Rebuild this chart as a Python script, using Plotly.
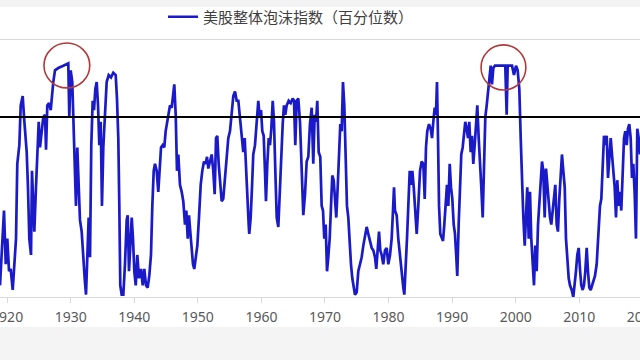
import plotly.graph_objects as go

# ---- data (decimal year, percentile) ----
years = [
    1918.88, 1919.15, 1919.51, 1919.78, 1920.03, 1920.30, 1920.56, 1920.88, 1921.08, 1921.40,
    1921.60, 1921.92, 1922.14, 1922.45, 1922.66, 1922.86, 1923.08, 1923.28, 1923.49, 1923.76,
    1923.91, 1924.12, 1924.28, 1924.54, 1924.75, 1924.97, 1925.17, 1925.44, 1925.69, 1925.96,
    1926.12, 1926.32, 1926.59, 1926.86, 1927.06, 1927.26, 1927.53, 1928.05, 1928.84, 1929.62,
    1929.78, 1930.00, 1930.25, 1930.52, 1930.83, 1931.04, 1931.26, 1931.46, 1931.73, 1931.98,
    1932.20, 1932.41, 1932.61, 1932.83, 1933.04, 1933.24, 1933.46, 1933.67, 1933.87, 1934.09,
    1934.30, 1934.50, 1934.72, 1934.92, 1935.13, 1935.40, 1935.66, 1935.98,
    1936.34, 1936.70, 1937.08, 1937.28, 1937.49, 1937.65, 1937.80, 1938.02, 1938.28, 1938.54,
    1938.81, 1938.97, 1939.17, 1939.38, 1939.60, 1939.80, 1940.01, 1940.23, 1940.48, 1940.74,
    1941.06, 1941.33, 1941.58, 1941.85, 1942.11, 1942.36, 1942.63, 1942.84, 1943.06, 1943.26,
    1943.53, 1943.78, 1943.94, 1944.21, 1944.47, 1944.72, 1944.94, 1945.15, 1945.35, 1945.62,
    1945.89, 1946.14, 1946.30, 1946.52, 1946.72, 1946.93, 1947.19, 1947.46, 1947.71, 1947.98,
    1948.19, 1948.41, 1948.61, 1948.81, 1949.03, 1949.24, 1949.44, 1949.66, 1949.92, 1950.18,
    1950.45, 1950.70, 1950.97, 1951.24, 1951.44, 1951.65, 1951.91, 1952.18, 1952.43,
    1952.65, 1952.86, 1953.06, 1953.28, 1953.49, 1953.75, 1954.00, 1954.27, 1954.54, 1954.79,
    1955.06, 1955.33, 1955.58, 1955.85, 1956.11, 1956.37, 1956.63, 1956.90, 1957.15, 1957.37,
    1957.58, 1957.78, 1958.00, 1958.09, 1958.31, 1958.52, 1958.72, 1958.99, 1959.26, 1959.51,
    1959.73, 1959.94, 1960.14, 1960.36, 1960.56, 1960.72, 1960.93, 1961.15, 1961.35, 1961.56,
    1961.78, 1961.98, 1962.19, 1962.41, 1962.66, 1962.92, 1963.13, 1963.35, 1963.55, 1963.76,
    1963.98, 1964.29, 1964.61, 1964.92, 1965.13, 1965.33, 1965.55, 1965.80, 1966.07, 1966.34,
    1966.59, 1966.86, 1967.12, 1967.38, 1967.64, 1967.91, 1968.16, 1968.38, 1968.59, 1968.79,
    1969.01, 1969.26, 1969.48, 1969.69, 1969.89, 1970.11, 1970.32, 1970.52, 1970.74, 1970.95,
    1971.15, 1971.37, 1971.58, 1971.78, 1972.00, 1972.20, 1972.41, 1972.63, 1972.83, 1973.04,
    1973.26, 1973.46, 1973.67, 1973.89, 1974.09, 1974.30, 1974.52, 1974.72, 1974.99, 1975.24,
    1975.51, 1975.77, 1976.03, 1976.29, 1976.56, 1976.81, 1977.08, 1977.35, 1977.60, 1977.87,
    1978.07, 1978.29, 1978.50, 1978.70, 1978.92, 1979.17, 1979.44, 1979.71, 1979.96, 1980.23,
    1980.49, 1980.70, 1980.86, 1981.01, 1981.28, 1981.53, 1981.80, 1982.07, 1982.32, 1982.48,
    1982.70, 1982.90, 1983.11, 1983.33, 1983.53, 1983.74, 1983.96, 1984.16, 1984.43, 1984.68,
    1984.95, 1985.21, 1985.47, 1985.69,
    1985.89, 1986.09, 1986.36, 1986.63, 1986.84, 1987.04, 1987.26, 1987.46, 1987.62, 1987.78,
    1987.94, 1988.14, 1988.36, 1988.57, 1988.77, 1988.99, 1989.19, 1989.40, 1989.62, 1989.82,
    1990.03, 1990.25, 1990.45, 1990.66, 1990.81, 1991.03, 1991.24, 1991.44, 1991.66, 1991.87,
    1992.07, 1992.29, 1992.50, 1992.70, 1992.92, 1993.13, 1993.33, 1993.55, 1993.75, 1993.96,
    1994.18, 1994.38, 1994.59, 1994.81, 1995.01, 1995.22, 1995.44, 1995.64, 1995.85, 1996.07,
    1996.27, 1996.48, 1996.74, 1997.11, 1997.42, 1997.73, 1998.05, 1998.36, 1998.58, 1998.74,
    1999.10, 1999.42, 1999.73, 2000.05, 2000.31, 2000.57, 2000.79, 2000.99, 2001.19, 2001.42,
    2001.62, 2001.82, 2002.05,
    2002.25, 2002.45, 2002.67, 2002.88, 2003.08, 2003.30, 2003.51, 2003.72, 2003.93, 2004.14,
    2004.34, 2004.56, 2004.77, 2004.97, 2005.19, 2005.40, 2005.60, 2005.82, 2006.02, 2006.23,
    2006.45, 2006.65, 2006.86, 2007.08, 2007.28, 2007.49, 2007.71, 2007.91, 2008.12, 2008.34,
    2008.54, 2008.81, 2009.06, 2009.28, 2009.48, 2009.69, 2009.91, 2010.11, 2010.32, 2010.54,
    2010.74, 2010.95, 2011.17, 2011.37, 2011.58, 2011.80, 2012.00, 2012.21, 2012.47, 2012.74,
    2012.99, 2013.26, 2013.47, 2013.69, 2013.89, 2014.10, 2014.32, 2014.52, 2014.73, 2014.95,
    2015.15, 2015.36, 2015.57, 2015.78, 2015.98, 2016.20, 2016.41, 2016.61, 2016.83, 2017.04,
    2017.24, 2017.46, 2017.66, 2017.87, 2018.09, 2018.29, 2018.50, 2018.72, 2018.92, 2019.13,
    2019.35, 2019.55,
]

bubble_pct = [
    5, 18, 37, 14, 25, 11, 12, 3, 12, 25,
    57, 65, 82, 86, 77, 71, 62, 47, 25, 18,
    54, 39, 28, 47, 61, 75, 64, 72, 77, 78,
    63, 82, 83, 80, 88, 92, 97, 98, 99, 100,
    77, 97, 92, 64, 39, 64, 42, 33, 28, 14,
    8, 1, 14, 34, 17, 65, 84, 80, 89, 92,
    82, 65, 75, 39, 64, 82, 92, 95,
    94, 96, 95, 85, 68, 39, 5, 1, 1, 14,
    33, 35, 11, 22, 34, 25, 11, 5, 18, 8,
    12, 5, 12, 5, 4, 9, 18, 39, 54, 57,
    54, 45, 54, 64, 65, 64, 71, 74, 78, 82,
    81, 88, 91, 78, 54, 61, 48, 45, 41, 31,
    37, 25, 35, 28, 20, 14, 12, 17, 22, 34,
    48, 54, 58, 57, 60, 55, 58, 61, 54,
    44, 68, 69, 57, 48, 41, 42, 50, 61, 68,
    71, 80, 86, 88, 84, 84, 77, 71, 62, 68,
    54, 39, 31, 27, 34, 47, 61, 65, 74, 84,
    77, 80, 71, 69, 54, 41, 57, 68, 65, 72,
    84, 75, 54, 34, 30, 50, 61, 74, 82, 78,
    82, 84, 83, 85, 84, 65, 84, 85, 75, 54,
    35, 44, 58, 60, 74, 81, 57, 78, 75, 84,
    62, 60, 39, 37, 25, 31, 11, 17, 25, 39,
    52, 50, 42, 34, 47, 65, 74, 71, 92, 82,
    61, 39, 34, 22, 14, 8, 4, 1, 2, 11,
    14, 17, 22, 27, 30, 27, 24, 21, 20, 17,
    12, 20, 28, 20, 18, 14, 20, 21, 14, 18,
    25, 37, 47, 37, 35, 25, 17, 11, 4, 1,
    11, 25, 39, 54, 48, 54, 47, 39, 27, 39,
    54, 58, 57, 42,
    64, 71, 74, 72, 68, 75, 81, 78, 92, 68,
    39, 27, 25, 24, 31, 42, 48, 39, 57, 47,
    42, 31, 27, 17, 9, 31, 51, 61, 64, 69,
    75, 72, 68, 75, 62, 69, 57, 65, 74, 82,
    68, 54, 47, 34, 61, 77, 82, 88, 94, 99,
    91, 98, 99, 99, 99, 99, 99, 99, 78, 99,
    99, 99, 95, 99, 97, 89, 68, 47, 35, 22,
    39, 47, 25,
    45, 25, 11, 5, 22, 11, 31, 39, 51, 58,
    54, 34, 55, 48, 39, 34, 31, 37, 42, 48,
    31, 28, 42, 51, 61, 54, 47, 25, 17, 8,
    5, 3, 0, 5, 11, 18, 21, 12, 5, 3,
    5, 11, 21, 11, 4, 3, 5, 7, 9, 14,
    25, 39, 42, 54, 69, 65, 69, 51, 60, 68,
    61, 54, 47, 34, 50, 39, 45, 37, 54, 68,
    71, 65, 72, 74, 68, 51, 57, 44, 25, 72,
    68, 61,
]

tick_years = [1920, 1930, 1940, 1950, 1960, 1970, 1980, 1990, 2000, 2010, 2020]
threshold = 77
series_name = "美股整体泡沫指数（百分位数）"

fig = go.Figure()
fig.add_trace(go.Scatter(
    x=years, y=bubble_pct, mode="lines", name=series_name,
    line=dict(color="#1a1ac8", width=2.7),
    showlegend=True,
))

shapes = [
    # light gray bands at top and bottom of the screenshot
    dict(type="rect", xref="paper", yref="paper", x0=-0.01, x1=1.01, y0=1.128, y1=1.2,
         fillcolor="#f3f3f3", line_width=0, layer="below"),
    dict(type="rect", xref="paper", yref="paper", x0=-0.01, x1=1.01, y0=-0.35, y1=-0.117,
         fillcolor="#f4f4f4", line_width=0, layer="below"),
    # threshold line
    dict(type="line", xref="paper", yref="y", x0=0, x1=1, y0=threshold, y1=threshold,
         line=dict(color="#000000", width=2)),
    # red circles around the two bubble peaks
    dict(type="circle", xref="x", yref="y", x0=1925.8, x1=1933.0, y0=89.5, y1=108.7,
         line=dict(color="#b03a3a", width=1.6)),
    dict(type="circle", xref="x", yref="y", x0=1994.55, x1=2001.6, y0=88.6, y1=107.9,
         line=dict(color="#b03a3a", width=1.6)),
]

# the original chart is cropped on the right: the figure is a little wider than
# the 640 px window so that the 2020 tick label is cut off as in the reference
fig.update_layout(
    width=660, height=360,
    margin=dict(l=0, r=0, t=40, b=63, pad=0, autoexpand=False),
    paper_bgcolor="#ffffff", plot_bgcolor="#ffffff",
    shapes=shapes,
    font=dict(family="Noto Sans CJK SC, Noto Sans, sans-serif", color="#595959"),
    legend=dict(
        orientation="h", x=0.247, xanchor="left", y=1.0895, yanchor="middle",
        bgcolor="rgba(0,0,0,0)", font=dict(size=15, color="#404040"),
    ),
    xaxis=dict(
        range=[1918.88, 2022.70], tickvals=tick_years,
        ticktext=[str(t) for t in tick_years],
        showline=True, linecolor="#d9d9d9", linewidth=1, mirror=True,
        ticks="outside", ticklen=5, tickcolor="#d9d9d9",
        ticklabeloverflow="allow", ticklabelstandoff=2,
        tickfont=dict(size=14, color="#595959", family="Noto Sans, sans-serif"),
        showgrid=False, zeroline=False,
    ),
    yaxis=dict(range=[0, 110], visible=False, showgrid=False, zeroline=False),
)

fig.write_html(
    "out.html",
    config={"displayModeBar": False},
    post_script="document.body.style.margin='0px';document.body.style.overflow='hidden';",
)
